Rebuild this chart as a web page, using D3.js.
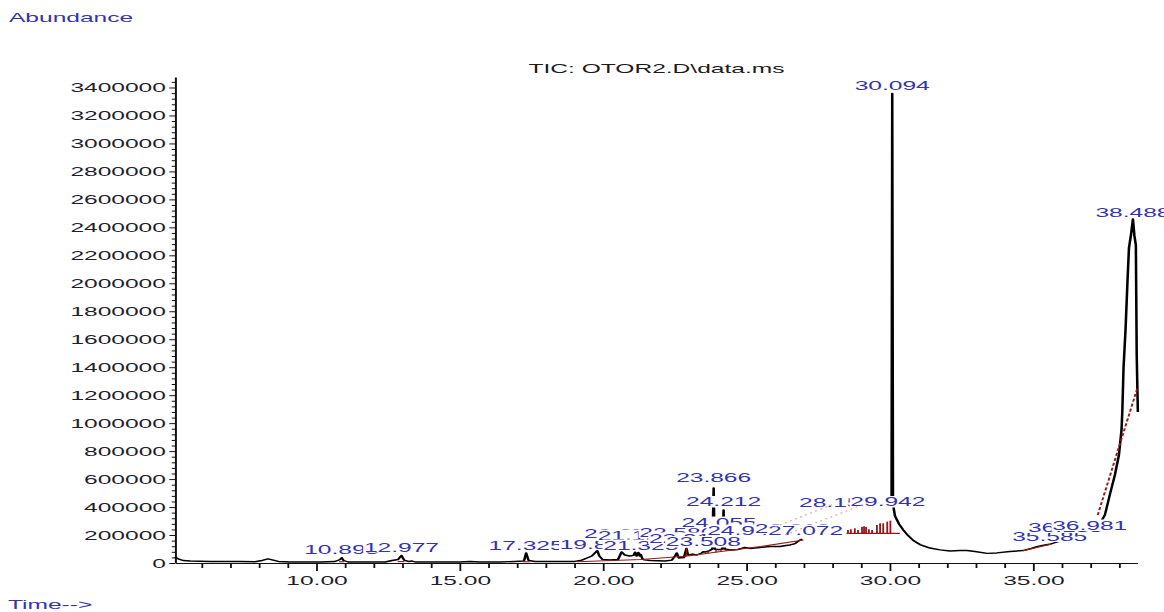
<!DOCTYPE html>
<html>
<head>
<meta charset="utf-8">
<script src="https://cdn.jsdelivr.net/npm/d3@7"></script>
<style>
  html, body { margin: 0; padding: 0; background: #ffffff; }
  svg { display: block; }
</style>
</head>
<body>
<svg id="chart" width="1164" height="612" viewBox="0 0 640 612" preserveAspectRatio="none"></svg>
<script>
// ---- Total ion chromatogram, OTOR2.D ----
const traceTime = [
  5.08, 5.19, 5.36, 5.61, 6.30, 7.35, 7.87, 8.12, 8.33, 8.47, 8.68, 9.09,
  10.14, 10.66, 10.84, 10.893, 10.96, 11.12, 12.41, 12.65, 12.86, 12.977, 13.07, 13.21,
  13.35, 13.49, 15.02, 15.37, 15.72, 16.42, 16.94, 17.25, 17.325, 17.41, 17.64, 18.51,
  19.03, 19.27, 19.45, 19.62, 19.806, 19.88, 19.99, 20.25, 20.53, 20.655, 20.77, 20.94,
  21.07, 21.128, 21.18, 21.24, 21.29, 21.325, 21.38, 21.45, 21.65, 22.17, 22.41, 22.52,
  22.58, 22.65, 22.83, 22.917, 22.97, 23.14, 23.28, 23.45, 23.508, 23.59, 23.73, 23.82,
  23.866, 23.90, 24.055, 24.17, 24.212, 24.25, 24.44, 24.72, 24.948, 25.13, 25.48, 25.83,
  26.18, 26.39, 26.53, 26.612, 26.70, 26.88, 26.95, 28.50,
  30.07, 30.094, 30.12, 30.19, 30.33, 30.48, 30.64, 30.83, 31.06, 31.41, 31.76, 32.11,
  32.45, 32.70, 32.98, 33.40, 33.74, 34.20, 34.65, 34.95, 35.17, 35.42, 35.585, 35.94,
  36.135, 36.29, 36.64, 36.981, 37.27, 37.51, 37.68, 37.86, 38.00, 38.09, 38.12, 38.16,
  38.23, 38.30, 38.35, 38.42, 38.488, 38.54, 38.59, 38.62, 38.66
];
const traceAbund = [
  43000, 30000, 18000, 14000, 11000, 11000, 9000, 18000, 29000, 23000, 11000, 7000,
  7000, 11000, 25000, 38000, 18000, 7000, 7000, 18000, 25000, 54000, 21000, 11000,
  14000, 7000, 7000, 11000, 7000, 7000, 11000, 14000, 72000, 18000, 11000, 11000,
  11000, 21000, 36000, 50000, 88000, 50000, 25000, 21000, 25000, 79000, 57000, 50000,
  54000, 77000, 50000, 75000, 50000, 62000, 30000, 22000, 18000, 14000, 21000, 50000,
  72000, 36000, 39000, 105000, 57000, 64000, 57000, 72000, 80000, 79000, 89000, 100000,
  536000, 100000, 95000, 100000, 379000, 100000, 93000, 97000, 111000, 104000, 111000, 118000,
  118000, 125000, 129000, 134000, 139000, 165000, 172000, null,
  400000, 3357000, 420000, 336000, 279000, 236000, 197000, 161000, 132000, 107000, 94000, 86000,
  89000, 89000, 82000, 69000, 72000, 82000, 89000, 104000, 119000, 129000, 134000, 157000,
  178000, 186000, 204000, 222000, 258000, 343000, 486000, 630000, 773000, 951000, 1094000, 1395000,
  1667000, 2024000, 2253000, 2346000, 2460000, 2339000, 2275000, 1488000, 1080000
];

// Labelled peaks: retention time and the abundance level of the label's baseline
const peakTimes  = [10.893, 12.977, 17.325, 19.806, 20.655, 21.128, 21.325, 22.580, 22.917, 23.508,
                    23.866, 24.055, 24.212, 24.948, 26.612, 27.072, 28.153, 29.942, 30.094, 35.585,
                    36.135, 36.981, 38.488];
const labelLevels = [64000, 82000, 93000, 100000, 179000, 164000, 93000, 186000, 143000, 118000,
                     579000, 257000, 404000, 200000, 214500, 200000, 400000, 404000, 3382000, 157000,
                     222000, 236000, 2477000];

// Integration baselines
const baseMainTime  = [19.10, 21.33, 22.96, 24.12, 25.51, 27.00];
const baseMainAbund = [9000, 25000, 50000, 82000, 118000, 165000];
const baseShortSegs = [
  [[10.80, 9000], [10.98, 9000]],
  [[12.85, 10000], [13.08, 10000]],
  [[17.22, 9000], [17.45, 9000]],
  [[34.66, 88000], [35.65, 136000]]
];
const baseLateTime  = [37.26, 38.64];
const baseLateAbund = [343000, 1249000];
const dropTimes = [22.917, 23.67, 23.95, 24.12, 24.30, 24.45, 24.60, 24.75, 24.90, 25.05];

// Split-peak cluster before 30 min
const clusterBaseTime  = [28.50, 30.36];
const clusterBaseAbund = 212000;
const clusterTimes = [28.55, 28.65, 28.79, 28.90, 29.04, 29.11, 29.18, 29.28, 29.39, 29.56, 29.67, 29.78, 29.92, 30.03];
const clusterTops  = [236000, 241000, 248000, 236000, 260000, 262000, 258000, 241000, 236000, 272000, 284000, 284000, 296000, 303000];
const traceLines = [
  [[26.36, 200000], [29.29, 436000]],
  [[26.00, 257000], [28.10, 425000]]
];

const yTicks = d3.range(0, 3400001, 200000);
const xTicks = [10, 15, 20, 25, 30, 35];

// ---- drawing ----
const K = 1164 / 640;            // horizontal stretch of the drawing
const FONT = "'Liberation Sans', Arial, sans-serif";
const svg = d3.select("#chart");

const x = d3.scaleLinear().domain([5.08, 38.63]).range([175 / K, 1137 / K]);
const y = d3.scaleLinear().domain([0, 3475000]).range([563, 77]);

// Axis titles and file title
svg.append("text").attr("x", 9 / K).attr("y", 22.5)
  .attr("font-family", FONT).attr("font-size", 13.5).attr("fill", "#3434b0")
  .text("Abundance");
svg.append("text").attr("x", 8 / K).attr("y", 609)
  .attr("font-family", FONT).attr("font-size", 13.5).attr("fill", "#3434b0")
  .text("Time-->");
svg.append("text").attr("x", 656.5 / K).attr("y", 73).attr("text-anchor", "middle")
  .attr("font-family", FONT).attr("font-size", 13.5).attr("fill", "#1a1a22")
  .text("TIC: OTOR2.D\\data.ms");

// Y axis: labelled ticks plus minor ticks
const yMinor = d3.range(0, 3475000, 40000).filter(v => v % 200000 !== 0);
svg.append("g").attr("transform", `translate(${x.range()[0]},0)`)
  .call(d3.axisLeft(y).tickValues(yMinor).tickSize(1.8).tickSizeOuter(0).tickFormat(""))
  .call(g => g.select(".domain").remove())
  .call(g => g.selectAll("line").attr("stroke", "#111").attr("stroke-width", 1));
const yAxis = svg.append("g").attr("transform", `translate(${x.range()[0]},0)`)
  .call(d3.axisLeft(y).tickValues(yTicks).tickFormat(d3.format("d"))
    .tickSize(3.1).tickSizeOuter(0).tickPadding(1.9));
yAxis.attr("font-family", FONT).attr("font-size", 13.5);
yAxis.select(".domain").attr("stroke", "#111").attr("stroke-width", 1.1);
yAxis.selectAll(".tick line").attr("stroke", "#111").attr("stroke-width", 1);
yAxis.selectAll(".tick text").attr("fill", "#1e1e2e");

// X axis: labelled ticks every 5 min, minor ticks every minute
const xMinor = d3.range(6, 39).filter(v => v % 5 !== 0);
svg.append("g").attr("transform", `translate(0,${y(0)})`)
  .call(d3.axisBottom(x).tickValues(xMinor).tickSize(5).tickSizeOuter(0).tickFormat(""))
  .call(g => g.select(".domain").remove())
  .call(g => g.selectAll("line").attr("stroke", "#111").attr("stroke-width", 1));
const xAxis = svg.append("g").attr("transform", `translate(0,${y(0)})`)
  .call(d3.axisBottom(x).tickValues(xTicks).tickFormat(d3.format(".2f"))
    .tickSize(8).tickSizeOuter(0));
xAxis.attr("font-family", FONT).attr("font-size", 13.5);
xAxis.select(".domain").attr("stroke", "#111").attr("stroke-width", 1.2);
xAxis.selectAll(".tick line").attr("stroke", "#111").attr("stroke-width", 1);
xAxis.selectAll(".tick text").attr("fill", "#1e1e2e").attr("y", 22).attr("dy", null);

// Chromatogram trace
const trace = traceTime.map((t, i) => ({ t, a: traceAbund[i] }));
const line = d3.line().defined(d => d.a !== null).x(d => x(d.t)).y(d => y(d.a));
svg.append("path").datum(trace)
  .attr("fill", "none").attr("stroke", "#000").attr("stroke-width", 1.4)
  .attr("stroke-linejoin", "round").attr("d", line);

// Integration baselines and drop lines
const red = "#951818";
const segLine = d3.line().x(d => x(d[0])).y(d => y(d[1]));
const mainBase = baseMainTime.map((t, i) => [t, baseMainAbund[i]]);
svg.append("path").datum(mainBase).attr("fill", "none").attr("stroke", red)
  .attr("stroke-width", 1.1).attr("d", segLine);
baseShortSegs.forEach(s => svg.append("path").datum(s).attr("fill", "none")
  .attr("stroke", red).attr("stroke-width", 1.1).attr("d", segLine));
svg.append("path").datum(baseLateTime.map((t, i) => [t, baseLateAbund[i]]))
  .attr("fill", "none").attr("stroke", red).attr("stroke-width", 1.1)
  .attr("stroke-dasharray", "3,2").attr("d", segLine);

const valueAt = (ts, vs, t) => {
  const i = Math.max(1, Math.min(ts.length - 1, d3.bisectLeft(ts, t)));
  const t0 = ts[i - 1], t1 = ts[i];
  const v0 = vs[i - 1], v1 = vs[i];
  if (v0 === null || v1 === null) return v0 === null ? v1 : v0;
  return v0 + (v1 - v0) * (t - t0) / (t1 - t0);
};
svg.append("g").selectAll("line").data(dropTimes).join("line")
  .attr("x1", d => x(d)).attr("x2", d => x(d))
  .attr("y1", d => y(valueAt(baseMainTime, baseMainAbund, d)))
  .attr("y2", d => y(valueAt(traceTime, traceAbund, d)))
  .attr("stroke", red).attr("stroke-width", 0.8);

svg.append("line")
  .attr("x1", x(clusterBaseTime[0])).attr("x2", x(clusterBaseTime[1]))
  .attr("y1", y(clusterBaseAbund)).attr("y2", y(clusterBaseAbund))
  .attr("stroke", red).attr("stroke-width", 1.1);
svg.append("g").selectAll("line").data(clusterTimes).join("line")
  .attr("x1", d => x(d)).attr("x2", d => x(d))
  .attr("y1", y(clusterBaseAbund)).attr("y2", (d, i) => y(clusterTops[i]))
  .attr("stroke", red).attr("stroke-width", 1);

// Peak labels on opaque boxes, later ones drawn over earlier ones
const fmt = d3.format(".3f");
peakTimes.forEach((t, i) => {
  const g = svg.append("g");
  const by = y(labelLevels[i]);
  const rect = g.append("rect").attr("fill", "#fff");
  const txt = g.append("text")
    .attr("x", x(t)).attr("y", by).attr("text-anchor", "middle")
    .attr("font-family", FONT).attr("font-size", 13.5).attr("fill", "#3232b4")
    .text(fmt(t));
  const w = txt.node().getComputedTextLength();
  rect.attr("x", x(t) - w / 2 - 0.4).attr("width", w + 0.8)
    .attr("y", by - 10.5).attr("height", 11.5);
});

// Faint stepped edges left by the stacked labels
traceLines.forEach(s => svg.append("path").datum(s).attr("fill", "none")
  .attr("stroke", "#e49c9c").attr("stroke-width", 1).attr("stroke-dasharray", "1.2,2.2")
  .attr("d", segLine));
</script>
</body>
</html>
